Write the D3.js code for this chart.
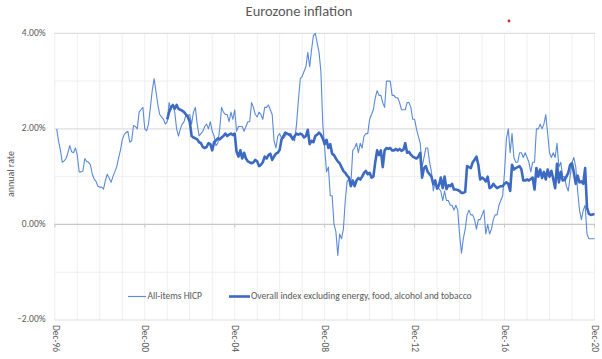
<!DOCTYPE html>
<html><head><meta charset="utf-8">
<script src="https://cdn.jsdelivr.net/npm/d3@7"></script>
<style>
body{margin:0;background:#fff}
svg{display:block}
text{font-family:Carlito, Calibri, Lato, "Open Sans", sans-serif}
</style>
</head><body>
<svg id="chart" width="602" height="359"></svg>
<script>
// Months counted from Dec-96 (index 0) to Dec-20 (index 288)
const hicpStartIndex = 1;   // Jan-97
const coreStartIndex = 60;  // Dec-01

// All-items HICP, annual rate %, Jan-97 .. Dec-20
const hicp = [
  2.0, 1.75, 1.55, 1.3, 1.33, 1.38, 1.5, 1.65, 1.52, 1.5, 1.6, 1.45,
  1.1, 1.1, 1.12, 1.38, 1.32, 1.3, 1.25, 1.05, 0.95, 0.9, 0.8, 0.78,
  0.78, 0.74, 0.92, 1.05, 0.97, 0.88, 1.0, 1.1, 1.2, 1.38, 1.55, 1.77,
  1.88, 1.92, 1.95, 1.72, 1.75, 2.07, 2.05, 2.0, 2.35, 2.4, 2.45, 2.0,
  1.96, 2.1, 2.45, 2.8, 3.05, 2.78, 2.5, 2.3, 2.25, 2.2, 2.1, 2.15,
  2.55, 2.4, 2.5, 2.35, 2.0, 1.85, 2.0, 2.1, 2.15, 2.3, 2.28, 2.3,
  2.1, 2.35, 2.45, 2.1, 1.85, 1.9, 1.95, 2.05, 2.1, 2.0, 2.15, 1.95,
  1.85, 1.65, 1.7, 2.0, 2.45, 2.35, 2.3, 2.3, 2.15, 2.35, 2.2, 2.4,
  1.95, 2.05, 2.05, 2.05, 1.95, 2.05, 2.15, 2.15, 2.55, 2.45, 2.3, 2.25,
  2.35, 2.3, 2.2, 2.45, 2.45, 2.5, 2.4, 2.3, 1.75, 1.6, 1.85, 1.9,
  1.8, 1.8, 1.85, 1.9, 1.9, 1.9, 1.8, 1.75, 2.1, 2.6, 3.05, 3.1,
  3.2, 3.3, 3.6, 3.3, 3.65, 3.95, 4.0, 3.8, 3.6, 3.2, 2.1, 1.6,
  1.1, 1.2, 0.6, 0.6, 0.0, -0.15, -0.65, -0.2, -0.3, -0.1, 0.5, 0.9,
  0.95, 0.85, 1.55, 1.6, 1.7, 1.5, 1.7, 1.6, 1.85, 1.9, 1.9, 2.2,
  2.3, 2.4, 2.65, 2.8, 2.7, 2.7, 2.55, 2.45, 3.0, 3.0, 3.0, 2.7,
  2.7, 2.65, 2.65, 2.55, 2.4, 2.4, 2.4, 2.55, 2.55, 2.45, 2.2, 2.2,
  2.0, 1.85, 1.7, 1.2, 1.4, 1.6, 1.6, 1.3, 1.1, 0.7, 0.9, 0.8,
  0.75, 0.7, 0.5, 0.7, 0.5, 0.5, 0.4, 0.4, 0.3, 0.4, 0.3, -0.2,
  -0.6, -0.3, -0.1, 0.2, 0.3, 0.2, 0.2, 0.1, -0.1, 0.1, 0.1, 0.2,
  0.3, -0.2, 0.0, -0.2, -0.1, 0.1, 0.2, 0.2, 0.4, 0.5, 0.6, 1.1,
  1.8, 2.0, 1.5, 1.9, 1.4, 1.3, 1.3, 1.5, 1.5, 1.4, 1.5, 1.4,
  1.3, 1.1, 1.3, 1.3, 2.0, 2.0, 2.1, 2.0, 2.1, 2.3, 1.9, 1.5,
  1.4, 1.5, 1.4, 1.7, 1.2, 1.3, 1.0, 1.0, 0.8, 0.7, 1.0, 1.3,
  1.4, 1.2, 0.7, 0.3, 0.1, 0.3, 0.4, -0.2, -0.3, -0.3, -0.3, -0.3
];

// Overall index excluding energy, food, alcohol and tobacco, Dec-01 .. Dec-20
const core = [
  2.2,
  2.35, 2.45, 2.5, 2.42, 2.5, 2.42, 2.4, 2.38, 2.35, 2.3, 2.25, 2.15,
  1.85, 1.82, 1.8, 1.78, 1.72, 1.7, 1.62, 1.6, 1.62, 1.7, 1.68, 1.55,
  1.72, 1.76, 1.8, 1.78, 1.82, 1.85, 1.9, 1.85, 1.88, 1.9, 1.87, 1.9,
  1.52, 1.42, 1.55, 1.38, 1.5, 1.38, 1.32, 1.3, 1.28, 1.3, 1.35, 1.32,
  1.22, 1.25, 1.3, 1.42, 1.38, 1.45, 1.48, 1.35, 1.42, 1.48, 1.5, 1.56,
  1.78, 1.85, 1.92, 1.9, 1.88, 1.85, 1.78, 1.85, 1.9, 1.88, 1.9, 1.88,
  1.82, 1.85, 1.98, 1.68, 1.75, 1.72, 1.85, 1.88, 1.92, 1.88, 1.8, 1.68,
  1.77, 1.6, 1.68, 1.48, 1.45, 1.38, 1.32, 1.28, 1.2, 1.12, 1.08, 1.02,
  0.98, 0.8, 0.92, 0.8, 0.92, 0.97, 0.94, 1.0, 1.08, 1.12, 1.05, 1.08,
  0.98, 1.0, 1.3, 1.55, 1.45, 1.55, 1.2, 1.55, 1.6, 1.58, 1.6, 1.55,
  1.55, 1.58, 1.55, 1.58, 1.54, 1.56, 1.7, 1.5, 1.52, 1.46, 1.42, 1.4,
  1.38, 1.42, 1.5, 0.98, 1.18, 1.22, 1.1, 1.05, 1.0, 0.84, 0.92, 0.75,
  0.82, 0.98, 0.76, 1.0, 0.74, 0.82, 0.8, 0.85, 0.73, 0.73, 0.72, 0.7,
  0.66, 0.66, 0.68, 1.22, 1.2, 1.18, 1.3, 1.35, 1.42, 1.25, 0.94, 0.98,
  0.95, 0.9, 1.0, 0.76, 0.78, 0.85, 0.8, 0.76, 0.78, 0.8, 0.8, 0.85,
  0.88, 0.85, 0.7, 1.25, 1.15, 1.18, 1.2, 1.22, 1.15, 0.92, 0.92, 0.94,
  0.92, 0.95, 0.98, 0.73, 1.18, 1.0, 1.15, 0.97, 1.1, 0.94, 1.15, 1.0,
  1.12, 0.95, 0.76, 1.27, 0.88, 1.1, 0.92, 0.93, 1.0, 1.08, 1.25, 1.28,
  1.08, 0.85, 1.02, 0.88, 0.9, 0.85, 1.18, 0.35, 0.22, 0.2, 0.21, 0.22
];

const xTickLabels = ["Dec-96", "Dec-00", "Dec-04", "Dec-08", "Dec-12", "Dec-16", "Dec-20"];
const xTickIndex = [0, 48, 96, 144, 192, 240, 288];
const yGridValues = [-2, -1, 0, 1, 2, 3, 4];
const yLabelValues = [-2, 0, 2, 4];
const seriesNames = ["All-items HICP", "Overall index excluding energy, food, alcohol and tobacco"];
const chartTitle = "Eurozone inflation";
const yAxisTitle = "annual rate";

const svg = d3.select("#chart");
const x = d3.scaleLinear().domain([0, 288]).range([54.8, 594.5]);
const y = d3.scaleLinear().domain([-2, 4]).range([320, 33.3]);
const plotLeft = 54.3, plotRight = 595;

const textColor = "#595959";

// vertical gridlines every 12 months
const vIdx = d3.range(0, 289, 12);
svg.append("g").selectAll("line").data(vIdx).join("line")
  .attr("x1", d => x(d)).attr("x2", d => x(d))
  .attr("y1", y(4)).attr("y2", y(-2))
  .attr("stroke", "#efefef").attr("stroke-width", 1);

// horizontal gridlines
svg.append("g").selectAll("line").data(yGridValues.filter(v => v !== 0)).join("line")
  .attr("x1", plotLeft).attr("x2", plotRight)
  .attr("y1", d => y(d)).attr("y2", d => y(d))
  .attr("stroke", d => (d % 2 === 0) ? "#dedede" : "#efefef")
  .attr("stroke-width", d => (d % 2 === 0) ? 1.2 : 1);

// zero axis line with tick marks
svg.append("line")
  .attr("x1", plotLeft).attr("x2", plotRight)
  .attr("y1", y(0)).attr("y2", y(0))
  .attr("stroke", "#c8c8c8").attr("stroke-width", 1.3);
svg.append("g").selectAll("line").data(xTickIndex).join("line")
  .attr("x1", d => x(d)).attr("x2", d => x(d))
  .attr("y1", y(0)).attr("y2", y(0) + 3)
  .attr("stroke", "#c8c8c8").attr("stroke-width", 1);

// y labels
svg.append("g").selectAll("text").data(yLabelValues).join("text")
  .attr("x", 45.5).attr("y", d => y(d))
  .attr("text-anchor", "end").attr("dominant-baseline", "middle")
  .attr("font-size", 9.5).attr("fill", textColor)
  .text(d => d3.format(".2f")(d) + "%");

// x labels (rotated)
svg.append("g").selectAll("text").data(xTickIndex).join("text")
  .attr("transform", d => `translate(${x(d)},325) rotate(90)`)
  .attr("text-anchor", "start").attr("dominant-baseline", "middle")
  .attr("font-size", 9.5).attr("fill", textColor)
  .text((d, i) => xTickLabels[i]);

// axis title
svg.append("text")
  .attr("transform", `translate(12,174) rotate(-90)`)
  .attr("text-anchor", "middle").attr("dominant-baseline", "middle")
  .attr("font-size", 10).attr("fill", textColor)
  .text(yAxisTitle);

// chart title
svg.append("text")
  .attr("x", 299).attr("y", 13)
  .attr("text-anchor", "middle").attr("dominant-baseline", "middle")
  .attr("font-size", 14.5).attr("fill", textColor)
  .text(chartTitle);

// lines
const line = d3.line().x(d => x(d.i)).y(d => y(d.v));
const hicpData = hicp.map((v, k) => ({ i: k + hicpStartIndex, v }));
const coreData = core.map((v, k) => ({ i: k + coreStartIndex, v }));

svg.append("path").datum(hicpData)
  .attr("d", line).attr("fill", "none")
  .attr("stroke", "#5b8ad8").attr("stroke-width", 1.1)
  .attr("stroke-linejoin", "round");
svg.append("path").datum(coreData)
  .attr("d", line).attr("fill", "none")
  .attr("stroke", "#3c69c2").attr("stroke-width", 2.6)
  .attr("stroke-linejoin", "round");

// legend
const legendY = 296.5;
const lg = svg.append("g");
lg.append("line").attr("x1", 128).attr("x2", 146).attr("y1", legendY).attr("y2", legendY)
  .attr("stroke", "#5b8ad8").attr("stroke-width", 1.1);
lg.append("text").attr("x", 147.5).attr("y", legendY).attr("dominant-baseline", "middle")
  .attr("font-size", 9.5).attr("fill", textColor).text(seriesNames[0]);
lg.append("line").attr("x1", 229).attr("x2", 250).attr("y1", legendY).attr("y2", legendY)
  .attr("stroke", "#3c69c2").attr("stroke-width", 2.6);
lg.append("text").attr("x", 251).attr("y", legendY).attr("dominant-baseline", "middle")
  .attr("font-size", 9.5).attr("fill", textColor).text(seriesNames[1]);

// small red marker in the top area
svg.append("circle").attr("cx", 509).attr("cy", 21).attr("r", 1.4).attr("fill", "#e02020");
</script>
</body></html>
